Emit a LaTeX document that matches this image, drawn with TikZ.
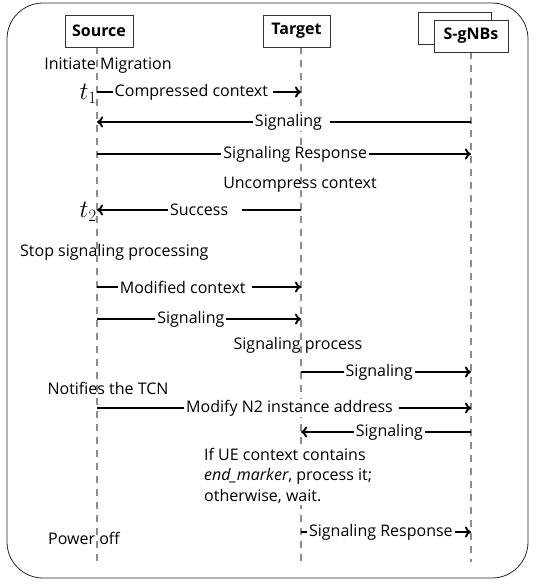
\documentclass[tikz,border=0pt]{standalone}
\usepackage{fontspec}
\setmainfont{Open Sans}
\usepackage{amsmath}
\usetikzlibrary{arrows.meta}

\begin{document}
\begin{tikzpicture}[x=1pt, y=-1pt,
    every node/.style={font=\fontsize{16}{20}\selectfont},
    entity/.style={draw=black!80, fill=white, line width=0.8pt, minimum height=32pt, minimum width=68pt, inner xsep=3pt, font=\fontsize{16}{20}\selectfont\bfseries},
    lifeline/.style={draw=black!45, line width=1.3pt, dash pattern=on 7pt off 6pt},
    msg/.style={line width=1.9pt, -{To[length=6pt,width=11pt]}},
    msglabel/.style={fill=white, inner xsep=2pt, inner ysep=1pt}]
    \useasboundingbox (0,0) rectangle (539,586);

    % Outer frame
    \draw[black!85, line width=0.8pt, rounded corners=36pt] (7,3) rectangle (528,578);

    % Lifeline end points
    \coordinate (Stop) at (97,47);  \coordinate (Sbot) at (97,562);
    \coordinate (Ttop) at (301,47); \coordinate (Tbot) at (301,562);
    \coordinate (Gtop) at (471,52); \coordinate (Gbot) at (471,562);
    \draw[lifeline] (Stop) -- (Sbot);
    \draw[lifeline] (Ttop) -- (Tbot);
    \draw[lifeline] (Gtop) -- (Gbot);

    % Participants
    \node[entity] (Src) at (99,31) {Source};
    \node[entity, minimum width=67pt] (Tgt) at (296.5,31) {Target};
    \node[entity, minimum width=73pt] (Gback) at (455,28) {};
    \node[entity, minimum width=74pt] (Gnb) at (471,36) {S-gNBs};

    % Notes
    \node (init) at (108,66) {Initiate Migration};
    \node[anchor=east, inner sep=1pt, font=\fontsize{23}{23}\selectfont] (t1) at (98,94) {$t_1$};
    \node (uncomp) at (300,185) {Uncompress context};
    \node[anchor=east, inner sep=1pt, font=\fontsize{23}{23}\selectfont] (t2) at (98,212) {$t_2$};
    \node[anchor=west, inner sep=0pt] (stop) at (20,252) {Stop signaling processing};
    \node (sigproc) at (298,345) {Signaling process};
    \node (notify) at (108,388) {Notifies the TCN};
    \node[anchor=north west, fill=white, inner sep=1pt, align=left, font=\fontsize{16}{20.5}\selectfont] (cond) at (203,447)
        {If UE context contains\\\textit{end\_marker}, process it;\\otherwise, wait.};
    \node (power) at (84,538) {Power off};

    % Message end points
    \coordinate (m1a) at (97,92);   \coordinate (m1b) at (301,92);
    \coordinate (m2a) at (471,122); \coordinate (m2b) at (97,122);
    \coordinate (m3a) at (97,154);  \coordinate (m3b) at (471,154);
    \coordinate (m4a) at (301,210); \coordinate (m4b) at (97,210);
    \coordinate (m5a) at (97,287);  \coordinate (m5b) at (301,287);
    \coordinate (m6a) at (97,319);  \coordinate (m6b) at (301,319);
    \coordinate (m7a) at (301,372); \coordinate (m7b) at (471,372);
    \coordinate (m8a) at (97,408);  \coordinate (m8b) at (471,408);
    \coordinate (m9a) at (471,432); \coordinate (m9b) at (301,432);
    \coordinate (m10a) at (301,532); \coordinate (m10b) at (471,532);

    % Messages
    \draw[msg] (m1a) -- (m1b) node[msglabel, pos=0.47] {Compressed context\hspace*{3pt}};
    \draw[msg] (m2a) -- (m2b) node[msglabel, pos=0.48] {Signaling\hspace*{6pt}};
    \draw[msg] (m3a) -- (m3b) node[msglabel, pos=0.53] {Signaling Response};
    \draw[msg] (m4a) -- (m4b) node[msglabel, pos=0.47] {Success\hspace*{12pt}};
    \draw[msg] (m5a) -- (m5b) node[msglabel, pos=0.43] {Modified context\hspace*{4pt}};
    \draw[msg] (m6a) -- (m6b) node[msglabel, pos=0.46] {Signaling};
    \draw[msg] (m7a) -- (m7b) node[msglabel, pos=0.46] {Signaling};
    \draw[msg] (m8a) -- (m8b) node[msglabel, pos=0.52] {Modify N2 instance address\hspace*{4pt}};
    \draw[msg] (m9a) -- (m9b) node[msglabel, pos=0.48] {Signaling};
    \draw[msg] (m10a) -- (m10b) node[msglabel, pos=0.47] {Signaling Response};
\end{tikzpicture}
\end{document}
